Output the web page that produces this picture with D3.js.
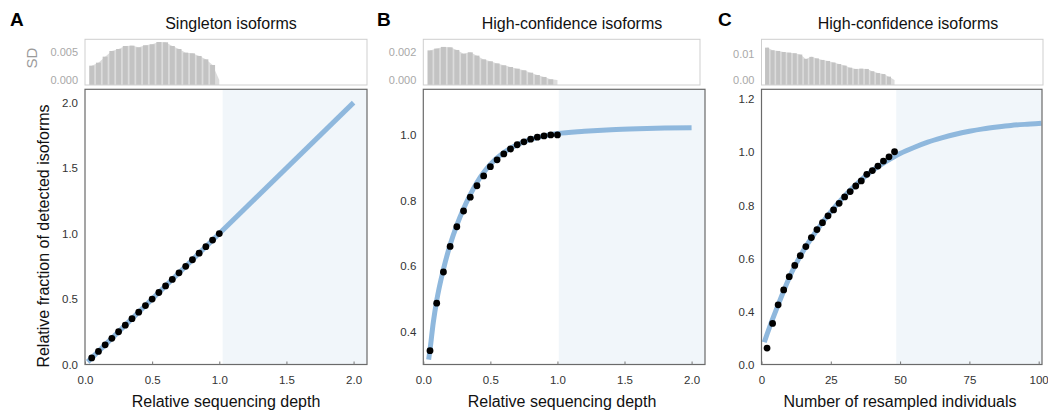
<!DOCTYPE html>
<html><head><meta charset="utf-8">
<script src="https://cdn.jsdelivr.net/npm/d3@7"></script>
<style>
body{margin:0;background:#fff}
svg{display:block;font-family:"Liberation Sans",Arial,Helvetica,sans-serif}
</style>
</head><body>
<svg id="chart" width="1048" height="410"></svg>
<script>
// ---------------- DATA ----------------
const depth = [0.05,0.10,0.15,0.20,0.25,0.30,0.35,0.40,0.45,0.50,0.55,0.60,0.65,0.70,0.75,0.80,0.85,0.90,0.95,1.00];
const fracSingleton = [0.05,0.10,0.15,0.20,0.25,0.30,0.35,0.40,0.45,0.50,0.55,0.60,0.65,0.70,0.75,0.80,0.85,0.90,0.95,1.00];
const fracHighConf = [0.342,0.487,0.582,0.660,0.720,0.768,0.810,0.845,0.875,0.903,0.924,0.942,0.957,0.970,0.979,0.987,0.993,0.997,1.000,1.000];
const individuals = [2,4,6,8,10,12,14,16,18,20,22,24,26,28,30,32,34,36,38,40,42,44,46,48];
const fracIndiv = [0.263,0.356,0.426,0.482,0.532,0.574,0.611,0.645,0.679,0.709,0.735,0.761,0.783,0.808,0.832,0.852,0.873,0.892,0.917,0.931,0.948,0.967,0.983,1.002];

const sdSingleton = [0.00253,0.00306,0.00412,0.00512,0.00547,0.0060,0.00606,0.00576,0.00612,0.0063,0.0067,0.00665,0.0060,0.00547,0.00482,0.0047,0.00424,0.00365,0.00265,0];
const sdHighConf = [0.00214,0.00227,0.00239,0.00236,0.00217,0.0019,0.0020,0.00176,0.00149,0.00135,0.0012,0.00106,0.00094,0.00082,0.0007,0.00053,0.00036,0.00022,0.00005,0];
const sdIndiv = [0.0126,0.01156,0.0113,0.0109,0.01065,0.0104,0.0099,0.0082,0.0090,0.0084,0.0078,0.0074,0.0068,0.0062,0.0056,0.0048,0.0043,0.0044,0.0043,0.0034,0.0027,0.0023,0.0013,0];

const fitSingletonX = [0.02, 2.0];
const fitSingletonY = [0.02, 2.0];
const fitHighConfX = [0.04,0.05,0.075,0.1,0.15,0.2,0.25,0.3,0.35,0.4,0.45,0.5,0.6,0.7,0.8,0.9,1.0,1.2,1.4,1.6,1.8,2.0];
const fitHighConfY = [0.315,0.345,0.43,0.495,0.59,0.665,0.725,0.775,0.818,0.855,0.885,0.91,0.946,0.97,0.986,0.997,1.004,1.011,1.016,1.019,1.021,1.022];
const fitIndivX = [1,2,4,6,8,10,15,20,25,30,35,40,45,48,50,55,60,65,70,75,80,85,90,95,100,101];
const fitIndivY = [0.285,0.315,0.372,0.426,0.478,0.528,0.628,0.707,0.776,0.836,0.887,0.931,0.966,0.984,0.995,1.018,1.038,1.054,1.068,1.079,1.088,1.095,1.101,1.105,1.108,1.109];

const xTicksDepth = [0,0.5,1,1.5,2];
const xTickLabelsDepth = ["0.0","0.5","1.0","1.5","2.0"];
const xTicksIndiv = [0,25,50,75,100];
const xTickLabelsIndiv = ["0","25","50","75","100"];
const yTicksA = [0,0.5,1,1.5,2];
const yTickLabelsA = ["0.0","0.5","1.0","1.5","2.0"];
const yTicksB = [0.4,0.6,0.8,1.0];
const yTickLabelsB = ["0.4","0.6","0.8","1.0"];
const yTicksC = [0.2,0.4,0.6,0.8,1.0,1.2];
const yTickLabelsC = ["0.0","0.4","0.6","0.8","1.0","1.2"];
const sdTicksA = [0,0.005];
const sdTickLabelsA = ["0.000","0.005"];
const sdTicksB = [0,0.002];
const sdTickLabelsB = ["0.000","0.002"];
const sdTicksC = [0,0.01];
const sdTickLabelsC = ["0.00","0.01"];

const panelLetters = ["A","B","C"];
const panelTitles = ["Singleton isoforms","High-confidence isoforms","High-confidence isoforms"];
const xAxisTitles = ["Relative sequencing depth","Relative sequencing depth","Number of resampled individuals"];
const yAxisTitle = "Relative fraction of detected isoforms";
const sdAxisTitle = "SD";

// ---------------- LAYOUT ----------------
const svg = d3.select("#chart");
const mainTop = 89.3, mainBottom = 364.5, sdTop = 39.3, sdBottom = 85;
const lineColor = "#8fb8dd", shadeColor = "#f1f6fa";

const panels = [
  {left:85, right:367, sdRight:367, xDom:[0,2.1], yDom:[0,2.102], shadeFrom:1.025, sdDom:[-0.00088,0.00718],
   px:depth, py:fracSingleton, sd:sdSingleton, fx:fitSingletonX, fy:fitSingletonY,
   xt:xTicksDepth, xtl:xTickLabelsDepth, yt:yTicksA, ytl:yTickLabelsA, st:sdTicksA, stl:sdTickLabelsA,
   letterX:10, titleX:231, xTitleX:226, barW:5},
  {left:423.3, right:705, sdRight:700, xDom:[0,2.1], yDom:[0.300,1.139], shadeFrom:1.01, sdDom:[-0.00036,0.00294],
   px:depth, py:fracHighConf, sd:sdHighConf, fx:fitHighConfX, fy:fitHighConfY,
   xt:xTicksDepth, xtl:xTickLabelsDepth, yt:yTicksB, ytl:yTickLabelsB, st:sdTicksB, stl:sdTickLabelsB,
   letterX:377, titleX:572, xTitleX:562, barW:5},
  {left:761.5, right:1042, sdRight:1043, xDom:[0,101.2], yDom:[0.2013,1.237], shadeFrom:48.6, sdDom:[-0.00195,0.01584],
   px:individuals, py:fracIndiv, sd:sdIndiv, fx:fitIndivX, fy:fitIndivY,
   xt:xTicksIndiv, xtl:xTickLabelsIndiv, yt:yTicksC, ytl:yTickLabelsC, st:sdTicksC, stl:sdTickLabelsC,
   letterX:718, titleX:908, xTitleX:900, barW:4}
];

panels.forEach((p, i) => {
  const g = svg.append("g");
  const x = d3.scaleLinear().domain(p.xDom).range([p.left, p.right]);
  const y = d3.scaleLinear().domain(p.yDom).range([mainBottom, mainTop]);
  const ys = d3.scaleLinear().domain(p.sdDom).range([sdBottom, sdTop]);
  const xs = d3.scaleLinear().domain(p.xDom).range([p.left, p.right]);

  // letter + title
  g.append("text").attr("x", p.letterX).attr("y", 26).attr("font-size", 19).attr("font-weight", "bold")
    .attr("fill", "#000").text(panelLetters[i]);
  g.append("text").attr("x", p.titleX).attr("y", 29).attr("font-size", 16).attr("text-anchor", "middle")
    .attr("fill", "#111").text(panelTitles[i]);

  // ---- SD panel ----
  const sdData = p.px.map((v, k) => ({x: v, s: p.sd[k]}));
  g.append("path").datum(sdData)
    .attr("d", d3.area().x(d => xs(d.x)).y0(sdBottom).y1(d => ys(d.s)))
    .attr("fill", "#dcdcdc");
  g.selectAll(null).data(sdData.filter(d => d.s > 0)).join("rect")
    .attr("x", d => xs(d.x) - p.barW / 2).attr("width", p.barW)
    .attr("y", d => ys(d.s)).attr("height", d => sdBottom - ys(d.s))
    .attr("fill", "#c3c3c3");
  g.append("rect").attr("x", p.left).attr("y", sdTop).attr("width", p.sdRight - p.left).attr("height", sdBottom - sdTop)
    .attr("fill", "none").attr("stroke", "#cfcfcf").attr("stroke-width", 1);
  const sdAxis = d3.axisLeft(ys).tickValues(p.st).tickFormat((d, k) => p.stl[k]).tickSize(0).tickPadding(7);
  const sa = g.append("g").attr("transform", `translate(${p.left},0)`).call(sdAxis);
  sa.select(".domain").remove();
  sa.selectAll("text").attr("font-size", 11).attr("fill", "#a8a8a8").attr("font-family", null);
  if (i === 0) {
    g.append("text").attr("transform", "translate(37,58) rotate(-90)").attr("text-anchor", "middle")
      .attr("font-size", 15).attr("fill", "#9a9a9a").text(sdAxisTitle);
  }

  // ---- main panel ----
  g.append("rect").attr("x", x(p.shadeFrom)).attr("y", mainTop).attr("width", p.right - x(p.shadeFrom))
    .attr("height", mainBottom - mainTop).attr("fill", shadeColor);

  const fit = p.fx.map((v, k) => [v, p.fy[k]]);
  g.append("path").datum(fit)
    .attr("d", d3.line().x(d => x(d[0])).y(d => y(d[1])).curve(d3.curveMonotoneX))
    .attr("fill", "none").attr("stroke", lineColor).attr("stroke-width", 5);

  g.selectAll(null).data(p.px.map((v, k) => [v, p.py[k]])).join("circle")
    .attr("cx", d => x(d[0])).attr("cy", d => y(d[1])).attr("r", 3.4).attr("fill", "#000");

  g.append("rect").attr("x", p.left).attr("y", mainTop).attr("width", p.right - p.left).attr("height", mainBottom - mainTop)
    .attr("fill", "none").attr("stroke", "#6a6a6a").attr("stroke-width", 1.2);

  const xa = g.append("g").attr("transform", `translate(0,${mainBottom})`)
    .call(d3.axisBottom(x).tickValues(p.xt).tickFormat((d, k) => p.xtl[k]).tickSize(-3).tickPadding(11));
  xa.select(".domain").remove();
  xa.selectAll("line").attr("stroke", "#777");
  xa.selectAll("text").attr("font-size", 11.5).attr("fill", "#333").attr("font-family", null);

  const ya = g.append("g").attr("transform", `translate(${p.left},0)`)
    .call(d3.axisLeft(y).tickValues(p.yt).tickFormat((d, k) => p.ytl[k]).tickSize(0).tickPadding(7));
  ya.select(".domain").remove();
  ya.selectAll("text").attr("font-size", 11.5).attr("fill", "#333").attr("font-family", null);

  g.append("text").attr("x", p.xTitleX).attr("y", 407).attr("font-size", 16).attr("text-anchor", "middle")
    .attr("fill", "#111").text(xAxisTitles[i]);
  if (i === 0) {
    g.append("text").attr("transform", "translate(49,236) rotate(-90)").attr("text-anchor", "middle")
      .attr("font-size", 16).attr("fill", "#111").text(yAxisTitle);
  }
});
</script>
</body></html>
